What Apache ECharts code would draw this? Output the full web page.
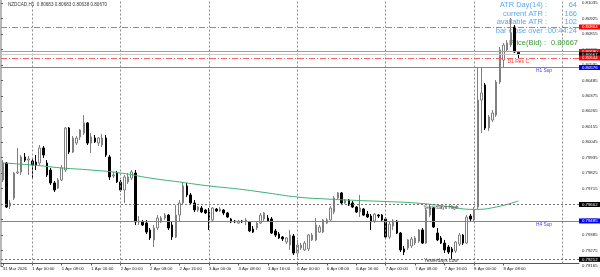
<!DOCTYPE html>
<html><head><meta charset="utf-8">
<script src="https://cdn.jsdelivr.net/npm/echarts@6/dist/echarts.min.js"></script>
<style>html,body{margin:0;padding:0;background:#fff}#c{width:600px;height:277px}</style>
</head><body><div id="c"></div>
<script>
// ---------- data ----------
const opens = [0.79776,0.79897,0.79591,0.79648,0.79826,0.79833,0.79940,0.79918,0.79911,0.79904,
0.79897,0.80004,0.79897,0.79847,0.79755,0.79719,0.79776,0.79847,0.80146,0.79975,
0.80039,0.80082,0.80110,0.80182,0.80039,0.80075,0.80039,0.80025,0.80075,0.79940,
0.79805,0.79826,0.79762,0.79705,0.79762,0.79790,0.79826,0.79478,0.79478,0.79470,
0.79421,0.79350,0.79435,0.79478,0.79506,0.79527,0.79456,0.79371,0.79527,0.79613,
0.79734,0.79670,0.79613,0.79563,0.79577,0.79563,0.79549,0.79492,0.79570,0.79556,
0.79563,0.79542,0.79499,0.79485,0.79470,0.79485,0.79478,0.79478,0.79428,0.79435,
0.79470,0.79499,0.79506,0.79499,0.79414,0.79392,0.79371,0.79335,0.79314,0.79378,
0.79257,0.79293,0.79279,0.79286,0.79350,0.79350,0.79406,0.79406,0.79470,0.79492,
0.79549,0.79648,0.79684,0.79613,0.79634,0.79613,0.79584,0.79549,0.79570,0.79534,
0.79520,0.79485,0.79527,0.79527,0.79499,0.79371,0.79449,0.79485,0.79399,0.79286,
0.79293,0.79307,0.79328,0.79342,0.79421,0.79328,0.79527,0.79577,0.79399,0.79364,
0.79328,0.79300,0.79286,0.79271,0.79321,0.79385,0.79328,0.79520,0.79492,0.79584,
0.80345,0.80452,0.80146,0.80203,0.80238,0.80473,0.80629,0.80701,0.80736,0.80864,
0.80683];
const closes = [0.79897,0.79584,0.79613,0.79826,0.79833,0.79940,0.79918,0.79926,0.79883,0.79883,
0.80004,0.79954,0.79812,0.79755,0.79705,0.79776,0.79862,0.80146,0.79975,0.80075,
0.80075,0.80132,0.80182,0.80039,0.80082,0.80047,0.80075,0.80075,0.79954,0.79798,
0.79812,0.79762,0.79705,0.79798,0.79798,0.79833,0.79478,0.79485,0.79456,0.79406,
0.79364,0.79435,0.79506,0.79506,0.79527,0.79435,0.79371,0.79527,0.79613,0.79734,
0.79670,0.79613,0.79563,0.79584,0.79549,0.79542,0.79492,0.79577,0.79556,0.79570,
0.79542,0.79513,0.79478,0.79478,0.79485,0.79478,0.79492,0.79414,0.79406,0.79470,
0.79527,0.79542,0.79485,0.79399,0.79385,0.79364,0.79357,0.79364,0.79385,0.79257,
0.79314,0.79314,0.79328,0.79385,0.79385,0.79456,0.79442,0.79492,0.79492,0.79577,
0.79648,0.79684,0.79613,0.79634,0.79598,0.79584,0.79549,0.79577,0.79527,0.79513,
0.79478,0.79534,0.79520,0.79492,0.79371,0.79463,0.79485,0.79399,0.79279,0.79264,
0.79350,0.79357,0.79364,0.79421,0.79328,0.79563,0.79577,0.79442,0.79350,0.79328,
0.79279,0.79264,0.79264,0.79335,0.79385,0.79328,0.79513,0.79499,0.79563,0.80345,
0.80395,0.80146,0.80224,0.80253,0.80473,0.80701,0.80736,0.80750,0.80821,0.80686,
0.80670];
const lows = [0.79762,0.79577,0.79570,0.79634,0.79819,0.79812,0.79904,0.79812,0.79790,0.79847,
0.79883,0.79933,0.79798,0.79741,0.79691,0.79712,0.79769,0.79833,0.79961,0.79968,
0.80025,0.80061,0.80096,0.80025,0.79968,0.80039,0.80018,0.80011,0.79940,0.79776,
0.79790,0.79755,0.79691,0.79613,0.79748,0.79776,0.79456,0.79456,0.79449,0.79392,
0.79350,0.79300,0.79421,0.79470,0.79492,0.79421,0.79350,0.79364,0.79478,0.79598,
0.79655,0.79598,0.79549,0.79549,0.79542,0.79534,0.79421,0.79485,0.79549,0.79549,
0.79527,0.79506,0.79470,0.79470,0.79463,0.79470,0.79456,0.79406,0.79399,0.79421,
0.79463,0.79485,0.79478,0.79392,0.79371,0.79357,0.79342,0.79321,0.79279,0.79243,
0.79229,0.79279,0.79271,0.79271,0.79342,0.79342,0.79399,0.79399,0.79463,0.79485,
0.79534,0.79641,0.79598,0.79606,0.79591,0.79577,0.79542,0.79513,0.79520,0.79506,
0.79421,0.79470,0.79506,0.79485,0.79364,0.79357,0.79421,0.79392,0.79264,0.79243,
0.79279,0.79293,0.79314,0.79328,0.79321,0.79321,0.79513,0.79435,0.79342,0.79321,
0.79257,0.79250,0.79212,0.79257,0.79307,0.79314,0.79321,0.79485,0.79478,0.79570,
0.80110,0.80132,0.80125,0.80189,0.80224,0.80459,0.80573,0.80686,0.80722,0.80679,
0.80638];
const highs = [0.79918,0.79904,0.79634,0.79833,0.80004,0.79954,0.79968,0.79947,0.79933,0.79954,
0.80025,0.80018,0.79918,0.79862,0.79769,0.79790,0.79883,0.80153,0.80153,0.80089,
0.80089,0.80139,0.80238,0.80189,0.80110,0.80096,0.80082,0.80103,0.80096,0.79954,
0.79833,0.79840,0.79776,0.79812,0.79826,0.79847,0.79847,0.79520,0.79492,0.79492,
0.79435,0.79456,0.79527,0.79520,0.79542,0.79534,0.79478,0.79598,0.79634,0.79755,
0.79755,0.79684,0.79634,0.79591,0.79591,0.79570,0.79577,0.79584,0.79577,0.79584,
0.79570,0.79549,0.79506,0.79492,0.79492,0.79492,0.79506,0.79485,0.79449,0.79478,
0.79542,0.79549,0.79527,0.79513,0.79428,0.79406,0.79378,0.79371,0.79421,0.79392,
0.79350,0.79328,0.79342,0.79392,0.79399,0.79506,0.79456,0.79499,0.79506,0.79591,
0.79662,0.79691,0.79691,0.79641,0.79641,0.79627,0.79591,0.79670,0.79577,0.79556,
0.79534,0.79542,0.79534,0.79534,0.79513,0.79478,0.79499,0.79492,0.79406,0.79307,
0.79357,0.79371,0.79378,0.79428,0.79435,0.79577,0.79602,0.79584,0.79435,0.79378,
0.79350,0.79314,0.79300,0.79342,0.79399,0.79392,0.79527,0.79534,0.79584,0.80573,
0.80573,0.80466,0.80238,0.80274,0.80487,0.80722,0.80750,0.80772,0.80928,0.80878,
0.80683];
// moving average read at selected bars
const maIndex = [0,8,16,24,32,40,48,56,64,72,80,88,96,104,112,120,128,134,140];
const maValue = [0.79897,0.79883,0.79862,0.79847,0.79826,0.79790,0.79762,0.79734,0.79712,0.79684,
0.79655,0.79641,0.79631,0.79623,0.79613,0.79591,0.79567,0.79584,0.79627];
// horizontal levels
const levelPrices = [0.80864,0.80690,0.80667,0.80644,0.80576,0.79602,0.79485,0.79212];
const levelKinds  = ['res','ask','bid','res','sup','yest','sup','yest'];
// level texts
const noteTexts = ['D1 Res C','H1 Sup','H4 Sup','Yesterdays High','Yesterdays Low'];
const noteBars  = [140,147,147,119,119];
const notePrices = [0.80644,0.80576,0.79485,0.79602,0.79212];
// day separators (bar index)
const separatorBars = [8,32,56,80,104,128,152];
// price scale
const priceTickBase = 0.79165, priceTickStep = 0.0011;
// time categories
const dayNames = ['31 Mar','1 Apr','2 Apr','3 Apr','6 Apr','7 Apr','8 Apr','9 Apr'];
const dayFirstHour = [16,0,0,0,0,0,0,0];
const TOTAL_SLOTS = 157, LAST_BAR = 140;
const categories = [];
for (let d = 0; d < dayNames.length && categories.length < TOTAL_SLOTS; d++) {
  for (let h = dayFirstHour[d]; h < 24 && categories.length < TOTAL_SLOTS; h++) {
    categories.push(dayNames[d] + ' ' + String(h).padStart(2,'0') + ':00');
  }
}
const infoLabels = ['ATR Day(14) :','current ATR :','available ATR :','bar close over :'];
const infoValues = ['64','166','102','00:44:24'];
const bidText = '0.80667';
const headerText = 'NZDCAD,H1  0.80683 0.80683 0.80638 0.80670';

// ---------- build ----------
const candleData = opens.map((o,i)=>[o, closes[i], lows[i], highs[i]]);
const maData = categories.map(()=>'-');
maIndex.forEach((ix,k)=>{ maData[ix] = maValue[k]; });

const FONT = '"Liberation Sans", Arial, sans-serif';
const kindStyle = {
  res:  {line:{color:'#f06464', type:[6,2,1,2], width:1}, box:'#ff0000'},
  ask:  {line:{color:'#f08080', type:'solid', width:1}, box:'#ff0000'},
  bid:  {line:{color:'#c8c8c8', type:'solid', width:1}, box:'#000000'},
  sup:  {line:{color:'#7474ff', type:'solid', width:1}, box:'#0000ff'},
  yest: {line:{color:'#707070', type:[2,2], width:1}, box:'#000000'}
};
const levelLines = levelPrices.map((p,i)=>{
  const st = kindStyle[levelKinds[i]];
  return {yAxis:p, lineStyle:st.line,
    label:{show:true, position:'end', distance:0, formatter:p.toFixed(5), color:'#fff',
      backgroundColor:st.box, padding:[1,3,0,3], fontSize:4.3, fontFamily:FONT}};
});
const sepLines = separatorBars.map(b=>({xAxis:b, lineStyle:{color:'#8c8c8c', type:[2,2], width:1}, label:{show:false}}));
const noteColors = {'D1 Res C':'#ff3030','H1 Sup':'#4040ff','H4 Sup':'#4040ff','Yesterdays High':'#333','Yesterdays Low':'#333'};
const notes = noteTexts.map((t,i)=>({coord:[noteBars[i], notePrices[i]], symbol:'circle', symbolSize:0,
  label:{show:true, position:'bottom', distance: t==='Yesterdays Low'? -1 : 1, formatter:t, color:noteColors[t], fontSize: t==='D1 Res C'?5:4.8, fontFamily:FONT}}));

const labelEvery = (idx)=> idx % 8 === 0 && idx <= LAST_BAR;
const gTop = 0, gBottomMain = 13.5, gLeft = 1, gRight = 21;
const mainHeight = 277 - gTop - gBottomMain;
const pxPrice = 0.0000711;
const yMax = 0.81056;
const yMinMain = yMax - mainHeight * pxPrice;
const labelHeight = 266;
const labelSpan = labelHeight * pxPrice;

const graphics = [
  {type:'text', x:8, y:5, z:0, style:{text:headerText, fill:'#333', font:'4.6px '+FONT, textVerticalAlign:'middle'}},
];
infoLabels.forEach((t,i)=>{
  graphics.push({type:'text', x:547, y:5+8.5*i, z:0, style:{text:t, fill:'#5aaaf0', font:'7.5px '+FONT, textAlign:'right', textVerticalAlign:'middle'}});
  graphics.push({type:'text', x:577, y:5+8.5*i, z:0, style:{text:infoValues[i], fill:'#5aaaf0', font:'7.5px '+FONT, textAlign:'right', textVerticalAlign:'middle'}});
});
graphics.push({type:'text', x:546, y:43, z:0, style:{text:'Price(Bid) :', fill:'#3a9a3a', font:'7.5px '+FONT, textAlign:'right', textVerticalAlign:'middle'}});
graphics.push({type:'text', x:578, y:43, z:0, style:{text:bidText, fill:'#3a9a3a', font:'7.5px '+FONT, textAlign:'right', textVerticalAlign:'middle'}});

const chart = echarts.init(document.getElementById('c'), null, {renderer:'canvas'});
chart.setOption({
  animation:false,
  backgroundColor:'#ffffff',
  grid:[
    {left:gLeft, right:gRight, top:gTop, bottom:gBottomMain, containLabel:false, outerBoundsMode:'none'},
    {left:gLeft, right:gRight, top:gTop, bottom:277-labelHeight, containLabel:false, outerBoundsMode:'none'}
  ],
  xAxis:[
    {type:'category', gridIndex:0, data:categories, boundaryGap:true,
      axisLine:{show:true, lineStyle:{color:'#555', width:1}},
      axisTick:{show:true, interval:labelEvery, alignWithLabel:true, length:2, lineStyle:{color:'#555'}},
      axisLabel:{interval:labelEvery, align:'left', margin:3, fontSize:4.3, color:'#222', fontFamily:FONT,
        formatter:(v,idx)=> idx===0 ? '31 Mar 2026' : v},
      splitLine:{show:false}},
    {type:'value', gridIndex:1, show:false, min:0, max:1}
  ],
  yAxis:[
    {type:'value', gridIndex:0, position:'left', min:yMinMain, max:yMax,
      axisLine:{show:true, lineStyle:{color:'#a0a0a0'}}, axisTick:{show:false}, axisLabel:{show:false}, splitLine:{show:false}},
    {type:'value', gridIndex:1, position:'right', min:0, max:labelSpan, interval:priceTickStep,
      axisLine:{show:true, lineStyle:{color:'#b8b8b8', width:2}},
      axisTick:{show:true, length:2, lineStyle:{color:'#555'}},
      axisLabel:{margin:3, fontSize:4.3, color:'#222', fontFamily:FONT, showMaxLabel:false,
        formatter:(v)=> (priceTickBase + v).toFixed(5)},
      splitLine:{show:false}}
  ],
  graphic: graphics,
  series:[
    {type:'candlestick', xAxisIndex:0, yAxisIndex:0, data:candleData, barWidth:2,
      itemStyle:{color:'#ffffff', color0:'#000000', borderColor:'#808080', borderColor0:'#000000', borderWidth:1},
      markLine:{silent:true, precision:5, symbol:['none','none'], animation:false, data: sepLines},
      markPoint:{silent:true, animation:false, data: notes}
    },
    {type:'line', xAxisIndex:0, yAxisIndex:0, data:maData, connectNulls:true, smooth:true, symbol:'none',
      lineStyle:{color:'#3cb371', width:1}, z:3,
      markLine:{silent:true, precision:5, symbol:['none','none'], animation:false, data: levelLines}}
  ]
});
</script>
</body></html>
